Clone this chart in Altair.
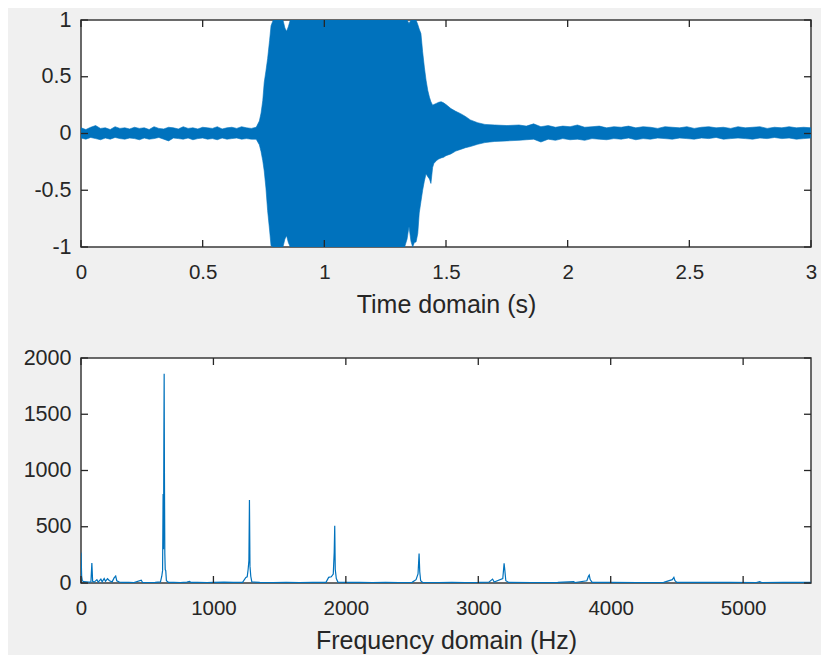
import altair as alt
import pandas as pd

# ---------------- time-domain envelope ----------------
t_quiet = [round(i * 0.02, 3) for i in range(37)]          # 0.00 .. 0.72 s
up_quiet = [0.05, 0.035, 0.055, 0.07, 0.045, 0.05, 0.035, 0.06, 0.045, 0.05,
            0.04, 0.055, 0.045, 0.05, 0.035, 0.06, 0.045, 0.04, 0.055, 0.05,
            0.04, 0.06, 0.045, 0.05, 0.04, 0.055, 0.05, 0.045, 0.06, 0.04,
            0.05, 0.055, 0.045, 0.06, 0.05, 0.045, 0.055]
lo_quiet = [-0.04, -0.05, -0.035, -0.045, -0.055, -0.04, -0.05, -0.035, -0.045, -0.05,
            -0.04, -0.045, -0.055, -0.04, -0.05, -0.045, -0.035, -0.05, -0.065, -0.04,
            -0.045, -0.05, -0.04, -0.055, -0.045, -0.04, -0.05, -0.045, -0.055, -0.04,
            -0.05, -0.045, -0.04, -0.05, -0.045, -0.05, -0.05]

t_note = [0.733, 0.74, 0.747, 0.753, 0.76, 0.767, 0.775, 0.781, 0.79,
          0.83, 0.838, 0.845, 0.852, 0.86, 1.0, 1.2,
          1.33, 1.34, 1.348, 1.356, 1.363, 1.37, 1.377,
          1.384, 1.39, 1.397, 1.404, 1.411, 1.418, 1.425, 1.432, 1.438, 1.445,
          1.45, 1.46, 1.47, 1.48, 1.49, 1.50,
          1.52, 1.54, 1.56, 1.58, 1.60,
          1.63, 1.66, 1.70, 1.75, 1.80]
up_note = [0.11, 0.18, 0.29, 0.45, 0.55, 0.66, 0.82, 0.95, 1.0,
           1.0, 0.93, 0.90, 0.94, 1.0, 1.0, 1.0,
           1.0, 1.0, 0.97, 1.0, 1.0, 1.0, 1.0,
           0.96, 0.92, 0.88, 0.72, 0.585, 0.47, 0.38, 0.32, 0.28, 0.25,
           0.255, 0.265, 0.275, 0.28, 0.27, 0.255,
           0.22, 0.195, 0.175, 0.15, 0.12,
           0.095, 0.08, 0.075, 0.07, 0.075]
lo_note = [-0.10, -0.16, -0.24, -0.33, -0.48, -0.68, -0.85, -0.99, -1.0,
           -1.0, -0.93, -0.90, -0.96, -1.0, -1.0, -1.0,
           -1.0, -0.93, -0.82, -0.95, -1.0, -0.96, -0.955,
           -0.88, -0.70, -0.60, -0.50, -0.42, -0.355, -0.38, -0.40, -0.44, -0.30,
           -0.265, -0.24, -0.225, -0.215, -0.21, -0.195,
           -0.18, -0.155, -0.14, -0.125, -0.115,
           -0.095, -0.08, -0.07, -0.065, -0.06]

t_tail = [round(1.83 + i * 0.03, 3) for i in range(40)]     # 1.83 .. 3.00 s
up_tail = [0.065, 0.085, 0.06, 0.07, 0.055, 0.065, 0.06, 0.075, 0.055, 0.06,
           0.065, 0.05, 0.06, 0.055, 0.065, 0.05, 0.06, 0.055, 0.045, 0.06,
           0.055, 0.05, 0.06, 0.045, 0.055, 0.06, 0.05, 0.055, 0.045, 0.06,
           0.05, 0.055, 0.06, 0.045, 0.055, 0.05, 0.06, 0.05, 0.055, 0.05]
lo_tail = [-0.055, -0.05, -0.075, -0.05, -0.06, -0.045, -0.055, -0.05, -0.06, -0.045,
           -0.05, -0.055, -0.045, -0.05, -0.04, -0.055, -0.045, -0.05, -0.04, -0.045,
           -0.05, -0.04, -0.045, -0.05, -0.04, -0.045, -0.035, -0.05, -0.045, -0.04,
           -0.045, -0.05, -0.04, -0.045, -0.035, -0.045, -0.04, -0.05, -0.045, -0.04]

# ---------------- frequency-domain spectrum ----------------
freq_hz = [0, 5, 10, 20, 40, 60, 75, 82, 88, 100, 120, 130, 150, 160, 175, 185, 200, 215,
           235, 250, 262, 270, 290, 320, 360, 400, 455, 465, 500, 560,
           600, 610, 616, 620, 623, 626, 628, 630, 633, 636, 640, 645, 660,
           700, 750, 800, 820, 830, 880, 950, 1000, 1080, 1150, 1220,
           1245, 1255, 1262, 1268, 1272, 1276, 1282, 1290,
           1350, 1450, 1550, 1650, 1750, 1850,
           1870, 1890, 1905, 1912, 1916, 1920, 1928, 1940,
           2000, 2100, 2200, 2300, 2400, 2500,
           2530, 2545, 2553, 2558, 2565, 2580,
           2700, 2800, 2900, 3000, 3080, 3108, 3120,
           3185, 3195, 3200, 3208, 3230,
           3400, 3600, 3720, 3730, 3820, 3832, 3838, 3845, 3860,
           4000, 4200, 4400, 4465, 4477, 4485, 4500,
           4700, 4900, 5100, 5125, 5140, 5300, 5512]
magnitude = [270, 60, 20, 12, 10, 8, 10, 177, 15, 8, 30, 8, 35, 10, 40, 15, 38, 20,
             10, 45, 62, 20, 8, 5, 6, 4, 25, 5, 4, 5,
             10, 60, 110, 790, 300, 1350, 1860, 980, 260, 120, 110, 20, 6,
             5, 4, 8, 15, 5, 6, 4, 5, 8, 5, 6,
             50, 55, 120, 200, 738, 150, 60, 10,
             5, 4, 5, 4, 5, 6,
             50, 55, 80, 270, 508, 120, 40, 8,
             5, 6, 4, 5, 4, 6,
             30, 80, 262, 100, 20, 5,
             4, 6, 4, 5, 8, 35, 8,
             40, 174, 120, 20, 5,
             4, 5, 12, 4, 20, 60, 71, 30, 5,
             6, 4, 5, 30, 50, 20, 5,
             6, 5, 4, 12, 4, 6, 5]

time_ticks = [0, 0.5, 1, 1.5, 2, 2.5, 3]
amp_ticks = [-1, -0.5, 0, 0.5, 1]
freq_ticks = [0, 1000, 2000, 3000, 4000, 5000]
mag_ticks = [0, 500, 1000, 1500, 2000]

BLUE = "#0072BD"
INK = "#262626"
FONT = "Liberation Sans"
W = 730
H1 = 227
H2 = 225
TICK = 7


def x_axis(values, title):
    return alt.Axis(values=values, title=title, labelExpr="'' + datum.value",
                    ticks=False, tickSize=0, domain=False, grid=False,
                    labelFont=FONT, labelFontSize=20.5, labelColor=INK,
                    labelPadding=15, labelFlush=False, labelOverlap=False,
                    titleFont=FONT, titleFontSize=25, titleFontWeight="normal",
                    titleColor=INK, titlePadding=10)


def y_axis(values):
    return alt.Axis(values=values, title=None, labelExpr="'' + datum.value",
                    ticks=False, tickSize=0, domain=False, grid=False,
                    labelFont=FONT, labelFontSize=21.5, labelColor=INK,
                    labelPadding=10, labelFlush=False, labelOverlap=False)


def inward_ticks(xvals, yvals, xs, ys, xax, yax, h):
    xdf = pd.DataFrame({"v": xvals})
    ydf = pd.DataFrame({"v": yvals})
    rule = dict(color=INK, strokeWidth=1.3)
    xb = alt.Chart(xdf).mark_rule(**rule).encode(
        x=alt.X("v:Q", scale=xs, axis=xax), y=alt.value(h), y2=alt.value(h - TICK))
    xt = alt.Chart(xdf).mark_rule(**rule).encode(
        x=alt.X("v:Q", scale=xs, axis=xax), y=alt.value(0), y2=alt.value(TICK))
    yl = alt.Chart(ydf).mark_rule(**rule).encode(
        y=alt.Y("v:Q", scale=ys, axis=yax), x=alt.value(0), x2=alt.value(TICK))
    yr = alt.Chart(ydf).mark_rule(**rule).encode(
        y=alt.Y("v:Q", scale=ys, axis=yax), x=alt.value(W - TICK), x2=alt.value(W))
    return [xb, xt, yl, yr]


# ---------------- top panel ----------------
wave_df = pd.DataFrame({
    "t": t_quiet + t_note + t_tail,
    "hi": up_quiet + up_note + up_tail,
    "lo": lo_quiet + lo_note + lo_tail,
})
xs1 = alt.Scale(domain=[0, 3], nice=False, zero=False)
ys1 = alt.Scale(domain=[-1, 1], nice=False, zero=False)
xax1 = x_axis(time_ticks, "Time domain (s)")
yax1 = y_axis(amp_ticks)

wave = alt.Chart(wave_df).mark_area(
    color=BLUE, opacity=1, stroke=BLUE, strokeWidth=0.6, clip=True
).encode(
    x=alt.X("t:Q", scale=xs1, axis=xax1),
    y=alt.Y("hi:Q", scale=ys1, axis=yax1),
    y2="lo:Q",
)
top = alt.layer(wave, *inward_ticks(time_ticks, amp_ticks, xs1, ys1, xax1, yax1, H1)).properties(
    width=W, height=H1)

# ---------------- bottom panel ----------------
spec_df = pd.DataFrame({"f": freq_hz, "m": magnitude})
xs2 = alt.Scale(domain=[0, 5512.5], nice=False, zero=False)
ys2 = alt.Scale(domain=[0, 2000], nice=False, zero=False)
xax2 = x_axis(freq_ticks, "Frequency domain (Hz)")
yax2 = y_axis(mag_ticks)

spec = alt.Chart(spec_df).mark_line(color=BLUE, strokeWidth=1.2, clip=True).encode(
    x=alt.X("f:Q", scale=xs2, axis=xax2),
    y=alt.Y("m:Q", scale=ys2, axis=yax2),
)
bottom = alt.layer(spec, *inward_ticks(freq_ticks, mag_ticks, xs2, ys2, xax2, yax2, H2)).properties(
    width=W, height=H2)

chart = alt.vconcat(top, bottom, spacing=27).properties(
    padding={"left": 14, "top": 0, "right": 3, "bottom": 0},
    background="#f0f0f0",
).configure_view(
    fill="white", stroke="#3a3a3a", strokeWidth=1.5
)

chart.save("out.html", embed_options={"renderer": "svg", "actions": False})
